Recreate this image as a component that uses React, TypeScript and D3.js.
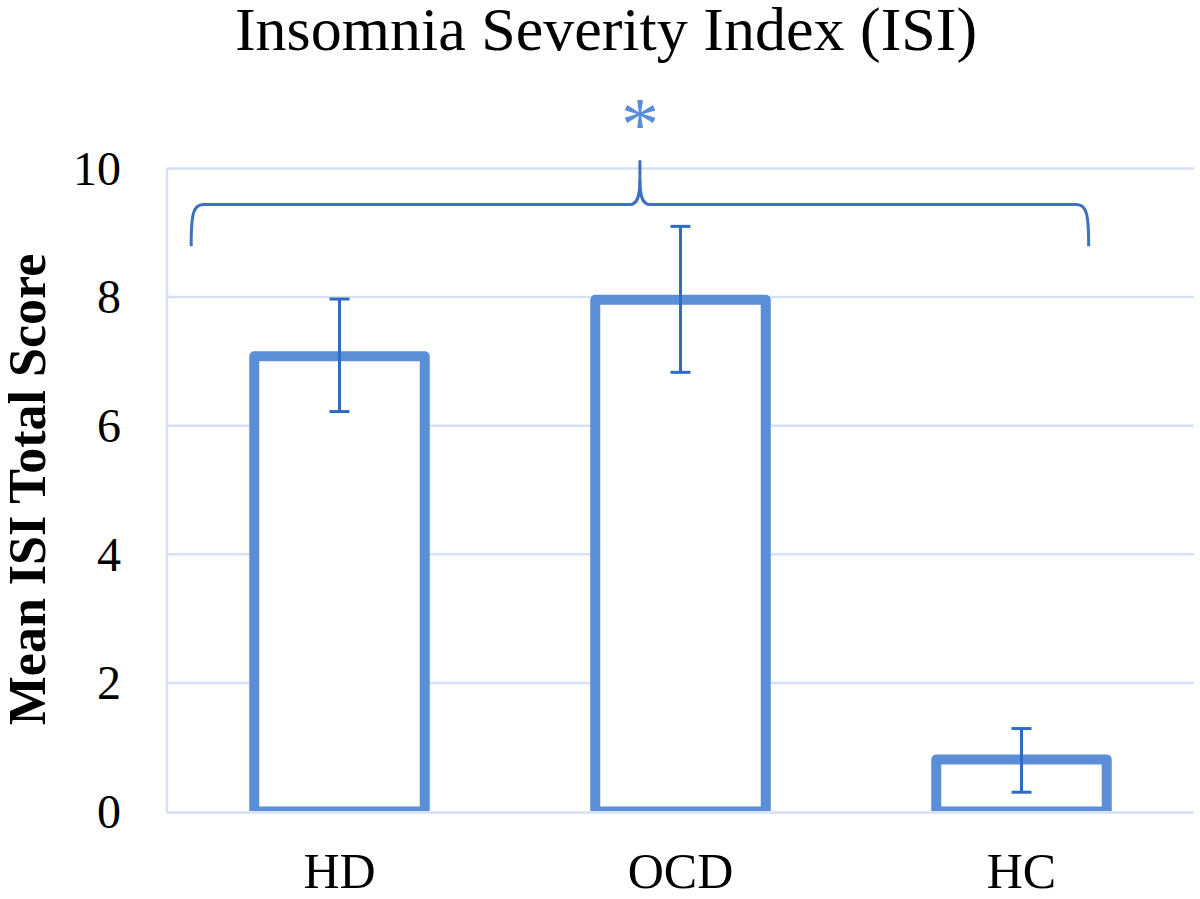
import React from "react";
import * as d3 from "d3";

const categories = ["HD", "OCD", "HC"];
const means = [7.08, 7.96, 0.81];
const errLow = [6.22, 6.83, 0.3];
const errHigh = [7.97, 9.1, 1.29];
const yTicks = [0, 2, 4, 6, 8, 10];
const title = "Insomnia Severity Index (ISI)";
const yLabel = "Mean ISI Total Score";
// bracket annotation (data units for y, band-step fractions for x)
const braceLevel = 9.44;
const braceEnd = 8.79;
const bracePeak = 10.13;
const braceLeftFrac = 0.065;
const braceRightFrac = 2.697;

const W = 1200;
const H = 899;
const plotLeft = 169;
const plotRight = 1192;
const plotTop = 168.5;
const plotBottom = 811.5;

const barColor = "#5A8ED6";
const errColor = "#2E6BC3";
const gridColor = "#D5E1F3";
const serif = "'Liberation Serif', 'Times New Roman', serif";

export default function App() {
  const x = d3.scaleBand<string>().domain(categories).range([plotLeft, plotRight]).paddingInner(0.5).paddingOuter(0.25);
  const y = d3.scaleLinear().domain([0, 10]).range([plotBottom, plotTop]);
  const bw = x.bandwidth();

  const bl = plotLeft + braceLeftFrac * x.step();
  const br = plotLeft + braceRightFrac * x.step();
  const bm = (bl + br) / 2;
  const yl = y(braceLevel);
  const ye = y(braceEnd);
  const yp = y(bracePeak);
  const leftPath = `M${bl},${ye} C${bl},${yl + 10} ${bl + 2},${yl} ${bl + 12},${yl} L${bm - 10},${yl} C${bm - 3},${yl} ${bm},${yl - 7} ${bm},${yl - 24} L${bm},${yp}`;
  const rightPath = `M${bm},${yl - 24} C${bm},${yl - 7} ${bm + 3},${yl} ${bm + 10},${yl} L${br - 12},${yl} C${br - 2},${yl} ${br},${yl + 10} ${br},${ye}`;

  return (
    <svg width={W} height={H} style={{ display: "block", position: "absolute", left: 0, top: 0, background: "#fff" }}>
      <defs>
        <clipPath id="plotClip">
          <rect x={0} y={0} width={W} height={plotBottom - 0.5} />
        </clipPath>
      </defs>
      <text x={606} y={50} textAnchor="middle" fontFamily={serif} fontSize={62} fill="#000">
        {title}
      </text>
      {/* gridlines */}
      {yTicks.map((t) => (
        <line key={t} x1={plotLeft - 2} x2={plotRight + 2} y1={y(t) + (t === 0 ? 1 : 0)} y2={y(t) + (t === 0 ? 1 : 0)} stroke={gridColor} strokeWidth={2.5} />
      ))}
      <line x1={plotLeft - 2} x2={plotLeft - 2} y1={y(10)} y2={y(0) + 1} stroke={gridColor} strokeWidth={2.5} />
      {/* tick labels */}
      {yTicks.map((t) => (
        <text key={t} x={121} y={y(t)} dy="0.34em" textAnchor="end" fontFamily={serif} fontSize={48} fill="#000">
          {t}
        </text>
      ))}
      {/* y label */}
      <text transform={`translate(45,${489.5}) rotate(-90)`} textAnchor="middle" fontFamily={serif} fontWeight="bold" fontSize={52} fill="#000">
        {yLabel}
      </text>
      {/* bars */}
      <g clipPath="url(#plotClip)">
        {categories.map((c, i) => (
          <rect key={c} x={x(c)!} y={y(means[i])} width={bw} height={y(0) - y(means[i])} fill="#fff" stroke={barColor} strokeWidth={10} strokeLinejoin="round" />
        ))}
      </g>
      {/* error bars */}
      {categories.map((c, i) => {
        const cx = x(c)! + bw / 2;
        return (
          <g key={c} stroke={errColor} strokeWidth={3}>
            <line x1={cx} x2={cx} y1={y(errLow[i])} y2={y(errHigh[i])} />
            <line x1={cx - 10} x2={cx + 10} y1={y(errLow[i])} y2={y(errLow[i])} />
            <line x1={cx - 10} x2={cx + 10} y1={y(errHigh[i])} y2={y(errHigh[i])} />
          </g>
        );
      })}
      {/* category labels */}
      {categories.map((c) => (
        <text key={c} x={x(c)! + bw / 2} y={888} textAnchor="middle" fontFamily={serif} fontSize={50} fill="#000">
          {c}
        </text>
      ))}
      {/* bracket + asterisk */}
      <path d={leftPath} fill="none" stroke="#3E70C0" strokeWidth={3} />
      <path d={rightPath} fill="none" stroke="#3E70C0" strokeWidth={3} />
      <text x={bm} y={150} textAnchor="middle" fontFamily={serif} fontSize={76} fill={barColor}>
        *
      </text>
    </svg>
  );
}
